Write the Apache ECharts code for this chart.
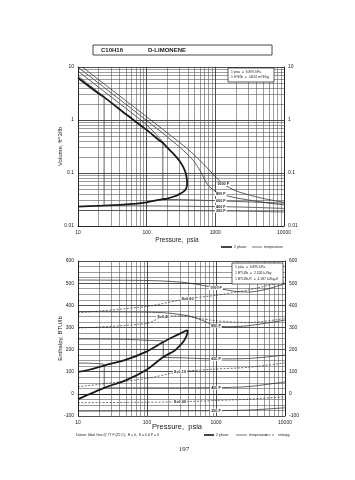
<!DOCTYPE html>
<html><head><meta charset="utf-8">
<script src="https://cdn.jsdelivr.net/npm/echarts@6/dist/echarts.min.js"></script>
<style>html,body{margin:0;padding:0;background:#fff}#c{width:355px;height:480px}</style>
</head><body><div id="c"></div>
<script>
// ---------- data ----------
const pressureTicks = [10, 100, 1000, 10000];
const pressureMinor = [20,30,40,50,60,70,80,90,200,300,400,500,600,700,800,900,2000,3000,4000,5000,6000,7000,8000,9000];
const volumeMinor = [0.02,0.03,0.04,0.05,0.06,0.07,0.08,0.09,0.2,0.3,0.4,0.5,0.6,0.7,0.8,0.9,2,3,4,5,6,7,8,9];

// Volume chart: two-phase dome (vapor branch then liquid branch)
const volDome = [[10,6.2],[20,3.15],[24,2.7],[50,1.28],[100,0.65],[150,0.42],[172,0.37],[200,0.30],[250,0.225],[300,0.17],[340,0.13],[370,0.1],[383,0.08],[388,0.066],
                 [385,0.056],[370,0.049],[340,0.044],[300,0.04],[250,0.036],[200,0.033],[172,0.032],[150,0.031],[100,0.028],[50,0.0255],[24,0.0242],[20,0.024],[10,0.0233]];
const volIso1000 = [[11.5,10],[20,5.75],[50,2.3],[100,1.15],[200,0.57],[400,0.28],[700,0.14],[1000,0.085],[1300,0.062],[2000,0.046],[3000,0.039],[5000,0.033],[10000,0.028]];
const volIso800  = [[10,9.9],[20,4.95],[50,1.97],[100,0.98],[200,0.48],[300,0.31],[400,0.22],[500,0.16],[600,0.11],[700,0.075],[800,0.057],[1000,0.045],[1200,0.04],[2000,0.034],[5000,0.028],[10000,0.025]];
const volIso600  = [[10,8.35],[20,4.15],[50,1.65],[100,0.81],[150,0.47],[172,0.37],[172,0.032],[300,0.0315],[1200,0.0298],[3000,0.0285],[10000,0.027]];
const volIso400  = [[10,6.77],[20,3.3],[24,2.7],[24,0.0242],[100,0.0239],[1200,0.0232],[3000,0.0226],[10000,0.0215]];
const volIso200  = [[10,0.0196],[100,0.0195],[1200,0.0193],[3000,0.019],[10000,0.0184]];
const volIsoNames = ['1000 F','800 F','600 F','400 F','200 F'];
const volIsoLabelIdx = [8, 12, 8, 5, 2];

// Enthalpy chart
const hTicks = [-100,0,100,200,300,400,500,600];
const hDome = [[10,99],[15,110],[24,128],[50,155],[100,192],[172,234],[250,260],[300,272],[350,282],[380,287],[388,284],
               [385,276],[370,258],[340,238],[300,218],[250,195],[172,166],[100,110],[50,62],[24,27],[10,-24]];
const hIso1000 = [[10,514],[100,512],[300,505],[600,492],[1000,478],[1500,468],[2000,462],[3000,460],[5000,470],[10000,497]];
const hIso800  = [[10,371],[100,369],[200,365],[400,352],[600,335],[800,318],[1000,308],[1500,303],[3000,308],[10000,333]];
const hIso600  = [[10,248],[50,246],[100,242],[172,236],[172,166],[300,163],[1000,158],[3000,160],[10000,175]];
const hIso400  = [[10,139],[24,132],[24,27],[100,27],[1000,28],[3000,33],[10000,54]];
const hIso200  = [[10,-78],[100,-77],[1000,-76],[3000,-73],[10000,-63]];
const hIsoNames = ['1000 F','800 F','600 F','400 F','200 F'];
const hIsoLabelIdx = [4, 6, 6, 4, 2];
const hS060 = [[10,366],[100,395],[386,430],[1000,445],[3000,470],[10000,508]];
const hS040 = [[10,297],[100,318],[172,349],[300,352],[1000,330],[3000,322],[10000,340]];
const hS010 = [[10,32],[100,70],[300,100],[1000,112],[3000,120],[10000,140]];
const hS000 = [[10,-40],[100,-38],[300,-36],[1000,-30],[3000,-24],[10000,-13]];
const hSNames = ['S=0.60','S=0.40','S=0.10','S=0.00'];
const hSLabelIdx = [2, 2, 2, 2];

// ---------- chart ----------
const FONT = 'Liberation Sans';
const INK = '#1a1a1a';
const chart = echarts.init(document.getElementById('c'), null, {renderer:'canvas'});

function xAx(g){
  return {type:'log', logBase:10, min:10, max:10000, gridIndex:g,
    axisLine:{show:true, lineStyle:{color:INK, width:0.8}}, axisTick:{show:false},
    axisLabel:{fontSize:5, color:INK, fontFamily:FONT, margin:4, formatter:v=>String(Math.round(v))},
    splitLine:{show:true, lineStyle:{color:'#222', width:0.8}}};
}
function gridLines(g, xs, ys){
  const d = xs.map(p=>({xAxis:p}));
  if (ys) ys.forEach(v=>d.push({yAxis:v}));
  return {type:'line', xAxisIndex:g, yAxisIndex:g*2, data:[[10, g===0?1:0]], symbol:'none', silent:true,
    lineStyle:{width:0}, z:1,
    markLine:{silent:true, symbol:'none', label:{show:false}, animation:false,
      lineStyle:{color:'#4a4a4a', width:0.55, type:'solid'}, data:d}};
}
function curve(g, data, w, type, names, idx, z){
  const s = {type:'line', xAxisIndex:g, yAxisIndex:g*2, data:data, symbol:'none', smooth:0.25,
    lineStyle:{color:INK, width:w, type:type||'solid'}, z:z||3, silent:true, animation:false};
  if (names){
    s.markPoint = {symbol:'rect', symbolSize:0, animation:false,
      label:{show:true, position:'inside', formatter:names, fontSize:3.8, fontWeight:'bold', color:INK, fontFamily:FONT,
        backgroundColor:'#fff', padding:[0,1]},
      data:[{coord:data[idx]}]};
  }
  return s;
}
const ySide = (g, type, pos, extra) => Object.assign({type:type, gridIndex:g, position:pos,
  axisLine:{show:true, lineStyle:{color:INK, width:0.8}}, axisTick:{show:false},
  axisLabel:{fontSize:5, color:INK, fontFamily:FONT, margin:4},
  splitLine:{show:pos==='left', lineStyle:{color:'#222', width:0.8}}}, extra);

const volIsos = [volIso1000, volIso800, volIso600, volIso400, volIso200];
const hIsos = [hIso1000, hIso800, hIso600, hIso400, hIso200];
const hSs = [hS060, hS040, hS010, hS000];

const series = [
  gridLines(0, pressureMinor, volumeMinor),
  gridLines(1, pressureMinor, null),
  curve(0, volDome, 1.8, 'solid', null, 0, 5),
  ...volIsos.map((d,i)=>curve(0, d, 0.7, 'solid', volIsoNames[i], volIsoLabelIdx[i])),
  curve(1, hDome, 1.8, 'solid', null, 0, 5),
  ...hIsos.map((d,i)=>curve(1, d, 0.7, 'solid', hIsoNames[i], hIsoLabelIdx[i])),
  ...hSs.map((d,i)=>curve(1, d, 0.6, [2,1.5], hSNames[i], hSLabelIdx[i]))
];

const option = {
  animation:false,
  backgroundColor:'#fff',
  textStyle:{fontFamily:FONT},
  grid:[{left:78, top:67, width:206, height:159},{left:78, top:261, width:207, height:155}],
  xAxis:[xAx(0), xAx(1)],
  yAxis:[
    ySide(0,'log','left',{logBase:10, min:0.01, max:10, name:'Volume, ft^3/lb', nameLocation:'middle', nameGap:15, nameMoveOverlap:false,
      nameTextStyle:{fontSize:6, color:INK, fontFamily:FONT}}),
    ySide(0,'log','right',{logBase:10, min:0.01, max:10}),
    ySide(1,'value','left',{min:-100, max:600, interval:100, name:'Enthalpy, BTU/lb', nameLocation:'middle', nameGap:15, nameMoveOverlap:false,
      nameTextStyle:{fontSize:6, color:INK, fontFamily:FONT},
      minorSplitLine:{show:true, lineStyle:{color:'#4a4a4a', width:0.55}}, minorTick:{show:false, splitNumber:4}}),
    ySide(1,'value','right',{min:-100, max:600, interval:100})
  ],
  series:series,
  graphic:[
    {type:'rect', shape:{x:93, y:45, width:179, height:10}, style:{fill:'#fff', stroke:INK, lineWidth:0.8}},
    {type:'text', x:101, y:50, style:{text:'C10H16', font:'bold 6px '+FONT, fill:INK, textVerticalAlign:'middle'}},
    {type:'text', x:148, y:50, style:{text:'D-LIMONENE', font:'bold 6px '+FONT, fill:INK, textVerticalAlign:'middle'}},
    {type:'rect', shape:{x:228, y:68, width:46, height:14}, style:{fill:'#fff', stroke:INK, lineWidth:0.7}, z:10},
    {type:'text', x:231, y:72, z:11, style:{text:'1 psia  =  6.895 kPa', font:'3.4px '+FONT, fill:INK, textVerticalAlign:'middle'}},
    {type:'text', x:231, y:77.5, z:11, style:{text:'1 ft^3/lb  =  .0624 m^3/kg', font:'3.4px '+FONT, fill:INK, textVerticalAlign:'middle'}},
    {type:'rect', shape:{x:232, y:263, width:51, height:21}, style:{fill:'#fff', stroke:INK, lineWidth:0.7}, z:10},
    {type:'text', x:235, y:267.5, z:11, style:{text:'1 psia  =  6.895 kPa', font:'3.4px '+FONT, fill:INK, textVerticalAlign:'middle'}},
    {type:'text', x:235, y:273.5, z:11, style:{text:'1 BTU/lb  =  2.326 kJ/kg', font:'3.4px '+FONT, fill:INK, textVerticalAlign:'middle'}},
    {type:'text', x:235, y:279.5, z:11, style:{text:'1 BTU/lb-R  =  4.187 kJ/kg-K', font:'3.4px '+FONT, fill:INK, textVerticalAlign:'middle'}},
    {type:'text', x:177, y:240, style:{text:'Pressure,  psia', font:'6.5px '+FONT, fill:INK, textAlign:'center', textVerticalAlign:'middle'}},
    {type:'line', shape:{x1:221, y1:247, x2:232, y2:247}, style:{stroke:INK, lineWidth:1.6}},
    {type:'text', x:234, y:247, style:{text:'2 phase', font:'3.5px '+FONT, fill:INK, textVerticalAlign:'middle'}},
    {type:'line', shape:{x1:252, y1:247, x2:262, y2:247}, style:{stroke:INK, lineWidth:0.6}},
    {type:'text', x:264, y:247, style:{text:'temperature', font:'3.5px '+FONT, fill:INK, textVerticalAlign:'middle'}},
    {type:'text', x:177, y:427, style:{text:'Pressure,  psia', font:'7.5px '+FONT, fill:INK, textAlign:'center', textVerticalAlign:'middle'}},
    {type:'text', x:76, y:435, style:{text:'Datum: Ideal Gas @ 77 F (25 C),  H = 0,  S = 0 & P = 0', font:'3.4px '+FONT, fill:INK, textVerticalAlign:'middle'}},
    {type:'line', shape:{x1:204, y1:435, x2:214, y2:435}, style:{stroke:INK, lineWidth:1.6}},
    {type:'text', x:216, y:435, style:{text:'2 phase', font:'3.5px '+FONT, fill:INK, textVerticalAlign:'middle'}},
    {type:'line', shape:{x1:236, y1:435, x2:247, y2:435}, style:{stroke:INK, lineWidth:0.6}},
    {type:'text', x:249, y:435, style:{text:'temperature', font:'3.5px '+FONT, fill:INK, textVerticalAlign:'middle'}},
    {type:'line', shape:{x1:265, y1:435, x2:275, y2:435}, style:{stroke:INK, lineWidth:0.6, lineDash:[2,1.5]}},
    {type:'text', x:278, y:435, style:{text:'entropy', font:'3.5px '+FONT, fill:INK, textVerticalAlign:'middle'}},
    {type:'text', x:184, y:449, style:{text:'197', font:'7px "Liberation Serif"', fill:INK, textAlign:'center', textVerticalAlign:'middle'}}
  ]
};
chart.setOption(option);
</script></body></html>
